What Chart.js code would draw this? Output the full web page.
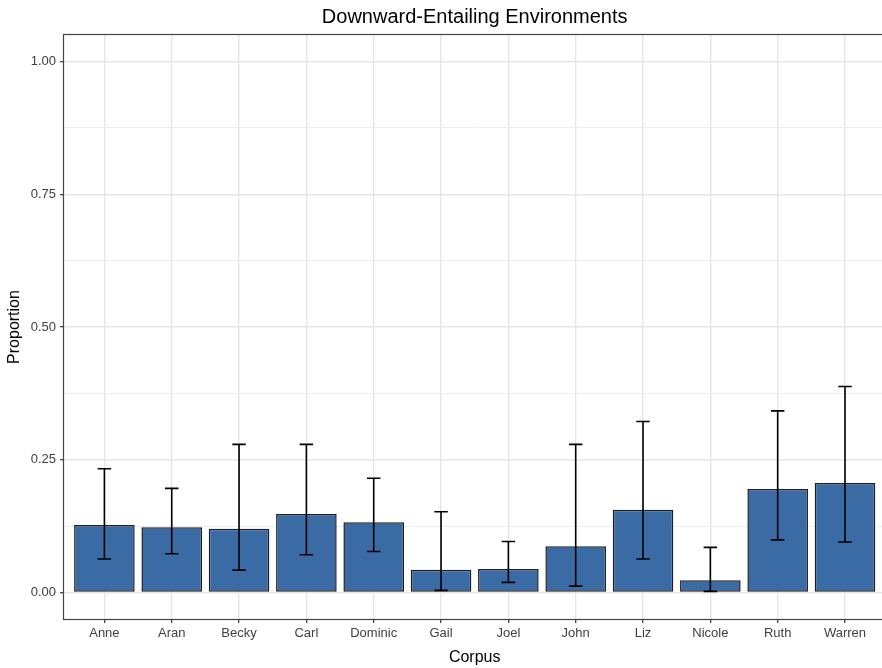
<!DOCTYPE html>
<html>
<head>
<meta charset="utf-8">
<script src="https://cdn.jsdelivr.net/npm/chart.js@4.4.1/dist/chart.umd.min.js"></script>
<style>
  html, body { margin: 0; padding: 0; background: #ffffff; overflow: hidden; }
  #wrap { position: absolute; left: 0; top: 0; width: 892px; height: 668px; }
</style>
</head>
<body>
<div id="wrap"><canvas id="chart" width="892" height="668"></canvas></div>
<script>
// Proportion of downward-entailing environments per corpus, with 95% intervals
const categories = ['Anne', 'Aran', 'Becky', 'Carl', 'Dominic', 'Gail', 'Joel', 'John', 'Liz', 'Nicole', 'Ruth', 'Warren'];
const proportion = [0.127, 0.123, 0.120, 0.148, 0.132, 0.043, 0.044, 0.087, 0.156, 0.023, 0.195, 0.206];
const lowerCI    = [0.063, 0.073, 0.042, 0.071, 0.077, 0.004, 0.019, 0.012, 0.063, 0.002, 0.099, 0.095];
const upperCI    = [0.233, 0.196, 0.279, 0.279, 0.215, 0.152, 0.096, 0.279, 0.322, 0.085, 0.342, 0.388];
const yTicks     = [0, 0.125, 0.25, 0.375, 0.5, 0.625, 0.75, 0.875, 1];
const yLabelled  = [0, 0.25, 0.5, 0.75, 1];

const chartTitle = 'Downward-Entailing Environments';
const xTitle = 'Corpus';
const yTitle = 'Proportion';

const FONT = '"Liberation Sans", Arial, Helvetica, sans-serif';
const isMajor = v => yLabelled.some(t => Math.abs(t - v) < 1e-9);

// Whisker lines for the confidence intervals
const errorBars = {
  id: 'errorBars',
  afterDatasetsDraw(chart) {
    const xs = chart.scales.x, ys = chart.scales.y, ctx = chart.ctx;
    const half = xs.getPixelForValue(0.1) - xs.getPixelForValue(0);
    ctx.save();
    ctx.strokeStyle = '#000000';
    ctx.lineWidth = 1.6;
    categories.forEach((c, i) => {
      const x = xs.getPixelForValue(i);
      const yl = ys.getPixelForValue(lowerCI[i]);
      const yh = ys.getPixelForValue(upperCI[i]);
      ctx.beginPath();
      ctx.moveTo(x, yl); ctx.lineTo(x, yh);
      ctx.moveTo(x - half, yh); ctx.lineTo(x + half, yh);
      ctx.moveTo(x - half, yl); ctx.lineTo(x + half, yl);
      ctx.stroke();
    });
    ctx.restore();
  }
};

// Panel frame plus plot and axis titles
const frameAndTitles = {
  id: 'frameAndTitles',
  afterDraw(chart) {
    const a = chart.chartArea, ctx = chart.ctx;
    ctx.save();
    ctx.strokeStyle = '#444444';
    ctx.lineWidth = 1.2;
    ctx.strokeRect(Math.round(a.left) - 0.5, Math.round(a.top) - 0.5,
                   Math.round(a.right - a.left) + 1, Math.round(a.bottom - a.top) + 1);
    const cx = (a.left + a.right) / 2;
    ctx.fillStyle = '#000000';
    ctx.textAlign = 'center';
    ctx.textBaseline = 'middle';
    ctx.font = '20px ' + FONT;
    ctx.fillText(chartTitle, cx, 17);
    ctx.font = '16px ' + FONT;
    ctx.fillText(xTitle, cx, 658);
    ctx.translate(15, (a.top + a.bottom) / 2);
    ctx.rotate(-Math.PI / 2);
    ctx.fillText(yTitle, 0, 0);
    ctx.restore();
  }
};

new Chart(document.getElementById('chart'), {
  type: 'bar',
  data: {
    datasets: [{
      data: categories.map((c, i) => ({ x: i, y: proportion[i] })),
      backgroundColor: '#3B6BA5',
      borderColor: '#1e1e1e',
      borderWidth: 1.5,
      borderSkipped: false,
      barPercentage: 0.9,
      categoryPercentage: 1.0
    }]
  },
  options: {
    responsive: false,
    animation: false,
    layout: { padding: { left: 0, top: 35, right: 6.6, bottom: 0 } },
    plugins: { legend: { display: false }, tooltip: { enabled: false }, title: { display: false } },
    scales: {
      x: {
        type: 'linear',
        offset: false,
        min: -0.6,
        max: 11.6,
        afterBuildTicks(scale) { scale.ticks = categories.map((c, i) => ({ value: i })); },
        afterFit(scale) { scale.height = 49; },
        ticks: {
          callback: v => categories[v] ?? '',
          color: '#404040',
          font: { family: FONT, size: 13 },
          padding: 3,
          maxRotation: 0,
          autoSkip: false
        },
        grid: { offset: false, color: '#E6E6E6', lineWidth: 1.4, tickLength: 4, tickColor: '#333333', tickWidth: 1.2 },
        border: { display: false }
      },
      y: {
        min: -0.05,
        max: 1.05,
        afterBuildTicks(scale) { scale.ticks = yTicks.map(v => ({ value: v })); },
        afterFit(scale) { scale.width = 64; },
        ticks: {
          callback: v => isMajor(v) ? v.toFixed(2) : '',
          color: '#404040',
          font: { family: FONT, size: 13 },
          padding: 4
        },
        grid: {
          color: ctx => isMajor(ctx.tick.value) ? '#E6E6E6' : '#EDEDED',
          lineWidth: ctx => isMajor(ctx.tick.value) ? 1.4 : 1,
          tickLength: 4,
          tickColor: ctx => isMajor(ctx.tick.value) ? '#333333' : 'rgba(0,0,0,0)',
          tickWidth: 1.2
        },
        border: { display: false }
      }
    }
  },
  plugins: [errorBars, frameAndTitles]
});
</script>
</body>
</html>
